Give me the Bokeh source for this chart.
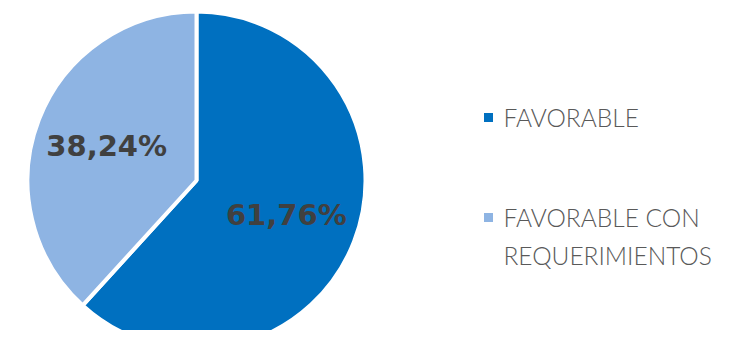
import math
from bokeh.plotting import figure
from bokeh.models import Range1d, ColumnDataSource
from bokeh.core.properties import value
from bokeh.embed import file_html
from bokeh.resources import INLINE

categories = ["FAVORABLE", "FAVORABLE CON REQUERIMIENTOS"]
legend_lines = [["FAVORABLE"], ["FAVORABLE  CON", "REQUERIMIENTOS"]]
values = [61.76, 38.24]
labels = ["61,76%", "38,24%"]
colors = ["#0070C0", "#8EB4E3"]

W, H = 719, 330
p = figure(width=W, height=H, output_backend="svg", toolbar_location=None,
           x_range=Range1d(0, W), y_range=Range1d(346 - H, 346), min_border=0)
p.axis.visible = False
p.grid.visible = False
p.outline_line_color = None
p.background_fill_color = "white"

# pie geometry (px, y measured up from bottom of window)
cx, cy, r = 196, 346 - 180, 169
total = sum(values)
# first slice (FAVORABLE) goes clockwise from 12 o'clock
starts, ends, mids = [], [], []
a = math.pi / 2
for v in values:
    sweep = 2 * math.pi * v / total
    starts.append(a - sweep)
    ends.append(a)
    mids.append(a - sweep / 2)
    a -= sweep

src = ColumnDataSource(dict(start=starts, end=ends, color=colors))
p.wedge(x=cx, y=cy, radius=r, radius_units="screen", start_angle="start", end_angle="end",
        fill_color="color", line_color="white", line_width=4, source=src)

lx = [cx + 0.57 * r * math.cos(m) for m in mids]
ly = [cy + 0.57 * r * math.sin(m) for m in mids]
p.text(x=lx, y=ly, text=labels, text_align="center", text_baseline="middle",
       text_font=value("DejaVu Sans"), text_font_style="bold", text_font_size="29px",
       text_color="#404040")

# legend
leg_x = 488
leg_y = [346 - 117, 346 - 217]
line_h = 38
p.scatter(x=[leg_x] * 2, y=leg_y, marker="square", size=9, fill_color=colors, line_color=None)
tx, ty, tt = [], [], []
for yy, lines in zip(leg_y, legend_lines):
    for i, t in enumerate(lines):
        tx.append(leg_x + 15)
        ty.append(yy - i * line_h)
        tt.append(t)
p.text(x=tx, y=ty, text=tt, text_align="left", text_baseline="middle",
       text_font=value("Lato Light, Lato"), text_font_size="24.5px", text_color="#595959")

open("out.html", "w").write(file_html(p, INLINE))
